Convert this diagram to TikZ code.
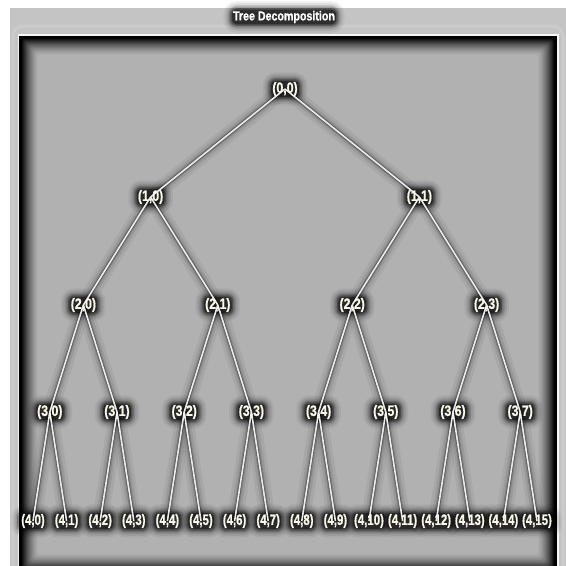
\documentclass[tikz,border=0pt]{standalone}
\usepackage{fontspec}
\setmainfont{Liberation Sans}
\newfontfamily\lblfont{Liberation Sans}[FakeBold=1.0]
\definecolor{outerbg}{RGB}{196,196,196}
\definecolor{innerbg}{RGB}{179,179,179}
\definecolor{txtcol}{RGB}{250,248,234}
\definecolor{edgecol}{RGB}{236,236,236}
\pgfdeclarelayer{frame}\pgfdeclarelayer{eglow}\pgfdeclarelayer{halo}\pgfdeclarelayer{edges}
\pgfsetlayers{frame,eglow,halo,edges,main}
\newcommand{\sq}[1]{\scalebox{0.82}[1]{#1}}
\newcommand{\sqs}[1]{\scalebox{0.76}[1]{#1}}
\tikzset{
  lbl/.style={font=\lblfont\bfseries\fontsize{15}{15}\selectfont, text=txtcol, inner sep=0.5pt},
  ttl/.style={font=\lblfont\bfseries\fontsize{13}{13}\selectfont, text=white, inner sep=0.5pt},
  eglowA/.style={draw=black, draw opacity=0.05, line width=16pt},
  eglowB/.style={draw=black, draw opacity=0.08, line width=10pt},
  eglowC/.style={draw=black, draw opacity=0.15, line width=5.5pt},
  eglowD/.style={draw=black, draw opacity=0.30, line width=3.2pt},
  edge/.style={draw=edgecol, line width=1.6pt}
}
\newcommand{\halo}[1]{%
  \begin{pgfonlayer}{halo}
    \foreach \e/\o in {9/0.05,7/0.08,5/0.12,3.5/0.18,2/0.3,0.5/0.45} {
      \fill[black, fill opacity=\o, rounded corners=\e pt+4pt]
        ([shift={(-\e,\e)}]#1.south west) rectangle ([shift={(\e,-\e)}]#1.north east);
    }
  \end{pgfonlayer}}
\newcommand{\tnode}[4]{% style, name, position, text
  \node[#1] (#2) at #3 {#4};
  \halo{#2}
}
\begin{document}
\begin{tikzpicture}[x=1pt,y=-1pt]
\useasboundingbox (0,0) rectangle (566,566);
\begin{pgfonlayer}{frame}
  \fill[white] (0,0) rectangle (566,566);
  \fill[outerbg] (10,8) rectangle (566,566);
  \draw[white!12!outerbg, line width=3pt, rounded corners=10pt] (13,26) rectangle (563,600);
  \fill[white!85!outerbg] (17.5,33.5) rectangle (559,600);
  \fill[black] (19,35.5) rectangle (557,600);
  \foreach \i in {1,...,17} {
    \pgfmathsetmacro\p{100*(1-\i/18)^1.5}
    \fill[black!\p!innerbg, rounded corners=3pt] (21+\i,37.5+\i) rectangle (555-\i,571-\i);
  }
\end{pgfonlayer}
% title
\tnode{ttl}{title}{(284,17)}{\sq{Tree Decomposition}}
% tree nodes
\tnode{lbl}{n0-0}{(285,89)}{\sq{(0,0)}}
\foreach \k in {0,1} {\pgfmathsetmacro\x{150.6+268.8*\k} \tnode{lbl}{n1-\k}{(\x,197)}{\sq{(1,\k)}}}
\foreach \k in {0,...,3} {\pgfmathsetmacro\x{83.4+134.4*\k} \tnode{lbl}{n2-\k}{(\x,305)}{\sq{(2,\k)}}}
\foreach \k in {0,...,7} {\pgfmathsetmacro\x{49.8+67.2*\k} \tnode{lbl}{n3-\k}{(\x,412)}{\sq{(3,\k)}}}
\foreach \k in {0,...,15} {\pgfmathsetmacro\x{33+33.6*\k} \tnode{lbl}{n4-\k}{(\x,521)}{\sqs{(4,\k)}}}
% edges
\foreach \l/\n in {0/1,1/2,2/4,3/8} {
  \pgfmathtruncatemacro\m{\l+1}
  \pgfmathtruncatemacro\last{\n-1}
  \foreach \k in {0,...,\last} {
    \pgfmathtruncatemacro\a{2*\k}
    \pgfmathtruncatemacro\b{2*\k+1}
    \begin{pgfonlayer}{eglow}
      \foreach \c in {\a,\b} {
        \draw[eglowA] (n\l-\k.center) -- (n\m-\c.center);
        \draw[eglowB] (n\l-\k.center) -- (n\m-\c.center);
        \draw[eglowC] (n\l-\k.center) -- (n\m-\c.center);
        \draw[eglowD] (n\l-\k.center) -- (n\m-\c.center);
      }
    \end{pgfonlayer}
    \begin{pgfonlayer}{edges}
      \foreach \c in {\a,\b} {
        \draw[edge] (n\l-\k.center) -- (n\m-\c.center);
      }
    \end{pgfonlayer}
  }
}
\end{tikzpicture}
\end{document}
